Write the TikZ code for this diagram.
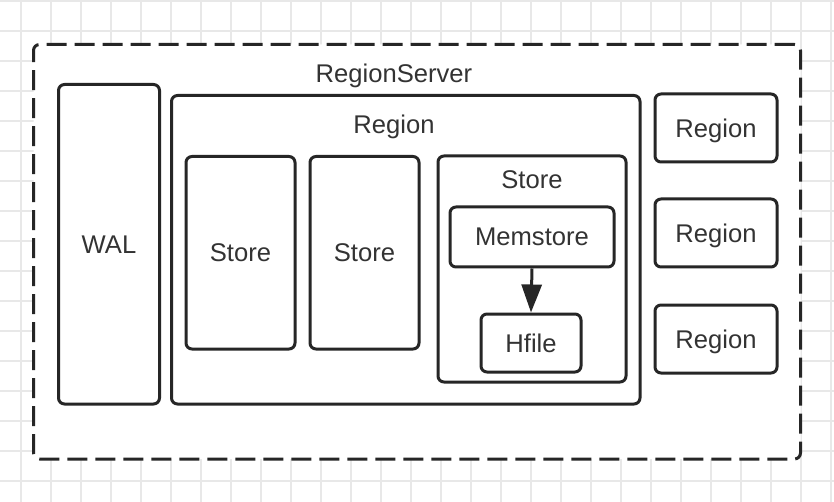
\documentclass[tikz,border=0pt]{standalone}
\usepackage{fontspec}
\setmainfont{Liberation Sans}
\usetikzlibrary{arrows.meta}
\definecolor{gridc}{HTML}{E8E8E8}
\definecolor{linec}{HTML}{262626}
\definecolor{textc}{HTML}{333333}
\begin{document}
\begin{tikzpicture}[x=1pt,y=-1pt,
  box/.style={draw=linec, line width=3pt, rounded corners=6pt, fill=white, inner sep=0pt},
  lbl/.style={text=textc, font=\fontsize{25.6}{29}\selectfont, inner sep=0pt, text depth=0pt},
  blbl/.style={box, text=textc, font=\fontsize{25.6}{29}\selectfont, text depth=0pt}]
\useasboundingbox (0,0) rectangle (834,502);
\fill[white] (0,0) rectangle (834,502);
\foreach \i in {0,...,27} \draw[gridc, line width=1.2pt] (21+30*\i,0) -- (21+30*\i,502);
\foreach \j in {0,...,16} \draw[gridc, line width=1.2pt] (0,1+30*\j) -- (834,1+30*\j);
\node[box, dashed, dash pattern=on 20pt off 8pt, minimum width=767pt, minimum height=414.5pt] (rs) at (417,251.75) {};
\node[lbl] (rsl) at (394,73) {RegionServer};
\node[blbl, minimum width=101pt, minimum height=319.5pt] (wal) at (109,244.25) {WAL};
\node[box, minimum width=468.5pt, minimum height=308.5pt] (reg) at (405.75,249.75) {};
\node[lbl] (regl) at (394,124) {Region};
\node[blbl, minimum width=109pt, minimum height=192.5pt] (s1) at (240.5,252.75) {Store};
\node[blbl, minimum width=109pt, minimum height=192.5pt] (s2) at (364.5,252.75) {Store};
\node[box, minimum width=188pt, minimum height=226pt] (s3) at (532,269) {};
\node[lbl] (s3l) at (532,180) {Store};
\node[blbl, minimum width=164pt, minimum height=60pt] (mem) at (532,237) {Memstore};
\node[blbl, minimum width=100pt, minimum height=58pt] (hf) at (531,343) {Hfile};
\node[blbl, minimum width=122pt, minimum height=68pt] (r1) at (716,128) {Region};
\node[blbl, minimum width=122pt, minimum height=68pt] (r2) at (716,233) {Region};
\node[blbl, minimum width=122pt, minimum height=68pt] (r3) at (716,339) {Region};
\draw[linec, line width=3pt, -{Triangle[length=28pt,width=20pt]}] (mem.south) -- (hf.north);
\end{tikzpicture}
\end{document}
